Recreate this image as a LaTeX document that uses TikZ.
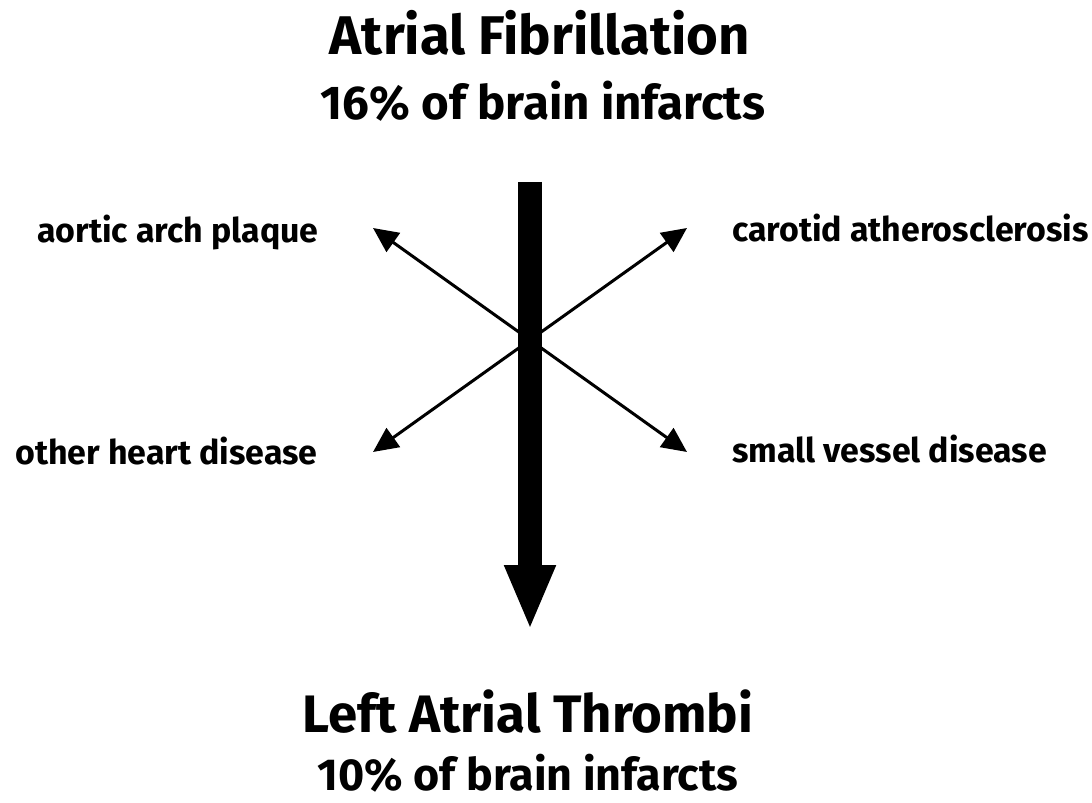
\documentclass[tikz,border=0pt]{standalone}
\usepackage{fontspec}
\setmainfont{Fira Sans}
\usepackage{tikz}
\usetikzlibrary{arrows.meta,positioning}
\tikzset{
    heading/.style={font=\fontsize{#1}{#1}\selectfont\bfseries, inner sep=0pt, anchor=base},
    cause/.style={font=\fontsize{19.3}{23}\selectfont\bfseries, inner sep=0pt, anchor=base west},
    thinarr/.style={-{Triangle[length=0.5cm, width=0.46cm]}, line width=0.06cm},
    bigarr/.style={-{Triangle[length=1.3cm, width=0.94cm]}, line width=0.48cm},
}

\begin{document}
\begin{tikzpicture}[x=0.02cm, y=-0.02cm]
    \useasboundingbox (0,0) rectangle (1092,803);

    \node[heading=31]   (af)     at (540,55)  {Atrial Fibrillation};
    \node[heading=27]   (afpct)  at (543,120) {16\% of brain infarcts};
    \node[heading=30]   (lat)    at (528,732) {Left Atrial Thrombi};
    \node[heading=25.5] (latpct) at (528,790) {10\% of brain infarcts};

    \node[cause] (aortic)  at (37,243)  {aortic arch plaque};
    \node[cause] (heart)   at (15,465)  {other heart disease};
    \node[cause] (carotid) at (732,242) {carotid atherosclerosis};
    \node[cause] (vessel)  at (732,463) {small vessel disease};

    % hub and arrow ends
    \coordinate (hub) at (530,340);
    \coordinate (ul) at (373,228);
    \coordinate (ur) at (687,228);
    \coordinate (ll) at (373,452);
    \coordinate (lr) at (687,452);
    \coordinate (shafttop) at (530,182);
    \coordinate (shafttip) at (530,630);

    \draw[thinarr] (hub) -- (ul);
    \draw[thinarr] (hub) -- (ur);
    \draw[thinarr] (hub) -- (ll);
    \draw[thinarr] (hub) -- (lr);

    \draw[bigarr] (shafttop) -- (shafttip);
\end{tikzpicture}
\end{document}
